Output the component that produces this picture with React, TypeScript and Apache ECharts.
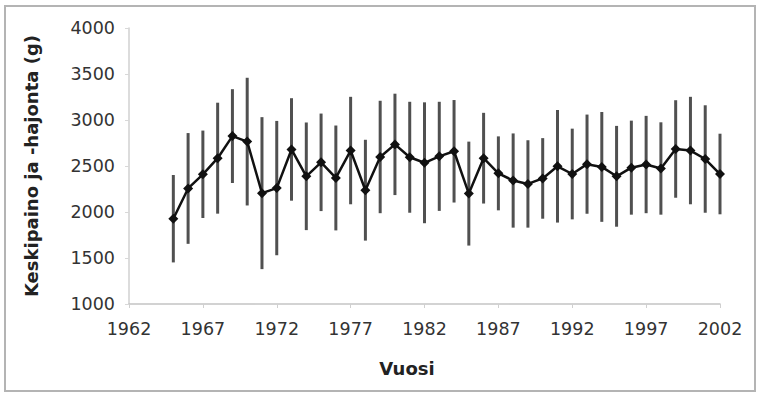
import React, { useEffect, useRef } from "react";
import * as echarts from "echarts";

const years: number[] = [
  1965, 1966, 1967, 1968, 1969, 1970, 1971, 1972, 1973, 1974, 1975, 1976, 1977,
  1978, 1979, 1980, 1981, 1982, 1983, 1984, 1985, 1986, 1987, 1988, 1989, 1990,
  1991, 1992, 1993, 1994, 1995, 1996, 1997, 1998, 1999, 2000, 2001, 2002,
];
const meanWeight: number[] = [
  1927, 2256, 2410, 2585, 2825, 2765, 2205, 2260, 2680, 2388, 2540, 2370, 2668,
  2237, 2598, 2735, 2595, 2535, 2605, 2660, 2200, 2585, 2420, 2342, 2305, 2365,
  2497, 2413, 2520, 2490, 2388, 2482, 2516, 2473, 2685, 2668, 2576, 2413,
];
const stdDev: number[] = [
  475, 602, 475, 603, 510, 694, 826, 730, 557, 585, 530, 570, 584,
  548, 611, 551, 603, 657, 593, 557, 565, 493, 402, 512, 475, 438,
  612, 493, 539, 597, 548, 511, 529, 502, 530, 584, 584, 438,
];
const yTicks = { min: 1000, max: 4000, step: 500 };
const xTicks = { min: 1962, max: 2002, step: 5 };

const yTitle = "Keskipaino ja -hajonta (g)";
const xTitle = "Vuosi";

export default function App() {
  const ref = useRef<HTMLDivElement>(null);
  useEffect(() => {
    if (!ref.current) return;
    const chart = echarts.init(ref.current, null, { renderer: "svg" });
    const lineData = years.map((y, i) => [y, meanWeight[i]]);
    const errData = years.map((y, i) => [y, meanWeight[i] - stdDev[i], meanWeight[i] + stdDev[i]]);
    const font = "'DejaVu Sans', sans-serif";
    chart.setOption({
      animation: false,
      backgroundColor: "#ffffff",
      grid: { left: 129, right: 38, top: 28, bottom: 94 },
      xAxis: {
        type: "value",
        min: xTicks.min,
        max: xTicks.max,
        interval: xTicks.step,
        splitLine: { show: false },
        axisLine: { lineStyle: { color: "#c4c4c4", width: 1.5 } },
        axisTick: { show: true, length: 4, lineStyle: { color: "#d0d0d0" } },
        axisLabel: {
          fontFamily: font,
          fontSize: 17.5,
          color: "#333",
          margin: 16,
          formatter: (v: number) => String(v),
        },
      },
      yAxis: {
        type: "value",
        min: yTicks.min,
        max: yTicks.max,
        interval: yTicks.step,
        splitLine: { show: false },
        axisLine: { show: true, lineStyle: { color: "#d0d0d0", width: 1.5 } },
        axisTick: { show: true, length: 4, lineStyle: { color: "#d8d8d8" } },
        axisLabel: {
          fontFamily: font,
          fontSize: 17.5,
          color: "#333",
          margin: 14,
          formatter: (v: number) => String(v),
        },
      },
      graphic: [
        {
          type: "rect",
          shape: { x: 5, y: 6, width: 750, height: 385 },
          style: { fill: "none", stroke: "#b4b4b4", lineWidth: 2 },
          silent: true,
        },
        {
          type: "text",
          x: 31,
          y: 166,
          rotation: Math.PI / 2,
          style: {
            text: yTitle,
            fontFamily: font,
            fontWeight: "bold",
            fontSize: 18,
            fill: "#222",
            textAlign: "center",
            textVerticalAlign: "middle",
          },
        },
        {
          type: "text",
          x: 407,
          y: 368,
          style: {
            text: xTitle,
            fontFamily: font,
            fontWeight: "bold",
            fontSize: 18,
            fill: "#222",
            textAlign: "center",
            textVerticalAlign: "middle",
          },
        },
      ],
      series: [
        {
          type: "custom",
          data: errData,
          z: 1,
          renderItem: (params: any, api: any) => {
            const x = api.value(0);
            const lo = api.coord([x, api.value(1)]);
            const hi = api.coord([x, api.value(2)]);
            return {
              type: "line",
              shape: { x1: lo[0], y1: lo[1], x2: hi[0], y2: hi[1] },
              style: { stroke: "#505050", lineWidth: 3 },
            };
          },
        },
        {
          type: "line",
          data: lineData,
          z: 3,
          symbol: "diamond",
          symbolSize: 10,
          itemStyle: { color: "#111" },
          lineStyle: { color: "#111", width: 2.5 },
        },
      ],
    });
    return () => chart.dispose();
  }, []);
  return (
    <div
      ref={ref}
      style={{ position: "fixed", left: 0, top: 0, width: 758, height: 398 }}
    />
  );
}
